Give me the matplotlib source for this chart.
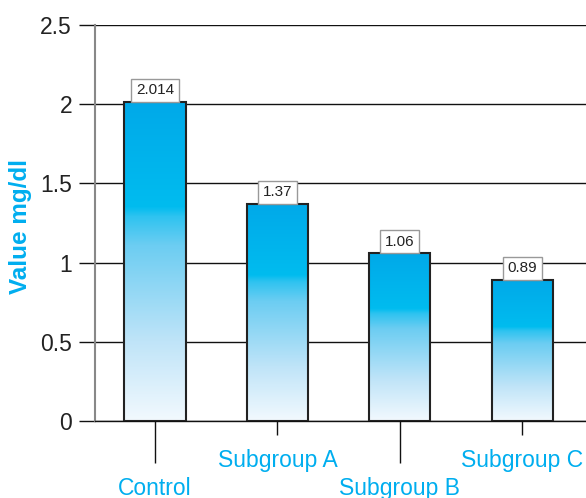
import matplotlib
matplotlib.use("Agg")
import matplotlib.pyplot as plt
import numpy as np
from matplotlib.colors import LinearSegmentedColormap
from matplotlib.ticker import FixedLocator, FixedFormatter

categories = ["Control", "Subgroup A", "Subgroup B", "Subgroup C"]
values = [2.014, 1.37, 1.06, 0.89]
value_labels = ["2.014", "1.37", "1.06", "0.89"]
yticks = [0, 0.5, 1, 1.5, 2, 2.5]
ytick_labels = ["0", "0.5", "1", "1.5", "2", "2.5"]

plt.rcParams['font.family'] = ['Liberation Sans', 'DejaVu Sans']
CYAN = "#00aeef"

fig = plt.figure(figsize=(5.86, 4.98), dpi=100)
ax = fig.add_axes([95/586, 1-421/498, 1-95/586, (421-25)/498])

x = np.arange(len(categories))
width = 0.5

cmap = LinearSegmentedColormap.from_list("grad", [
    (0.0, "#f2f9fe"),
    (0.25, "#bfe4f8"),
    (0.55, "#6ccdf2"),
    (0.64, "#2ec3f0"),
    (0.67, "#00bcef"),
    (1.0, "#00a9e9"),
])
grad = np.linspace(0, 1, 256).reshape(-1, 1)

bars = ax.bar(x, values, width, facecolor="none", edgecolor="#222222", linewidth=1.5, zorder=4)
for b in bars:
    x0, w, h = b.get_x(), b.get_width(), b.get_height()
    ax.imshow(grad, cmap=cmap, origin="lower", aspect="auto",
              extent=[x0, x0 + w, 0, h], zorder=3)

ax.set_xlim(-0.49, 3.52)
ax.set_ylim(0, 2.5)

for xi, v, lab in zip(x, values, value_labels):
    ax.annotate(lab, (xi, v), xytext=(0, 3.3), textcoords="offset points",
                ha="center", va="bottom", fontsize=11, color="#222222",
                bbox=dict(boxstyle="square,pad=0.3", fc="white", ec="#999999", lw=1),
                zorder=6)

ax.set_yticks(yticks)
ax.set_yticklabels(ytick_labels, fontsize=16.5, color="#222222")
ax.yaxis.grid(True, color="#111111", linewidth=1)
ax.set_axisbelow(True)
ax.tick_params(axis="y", length=11.5, width=1, color="#111111", pad=5)

# staggered x ticks
ax.xaxis.set_major_locator(FixedLocator([0, 2]))
ax.xaxis.set_major_formatter(FixedFormatter([categories[0], categories[2]]))
ax.xaxis.set_minor_locator(FixedLocator([1, 3]))
ax.xaxis.set_minor_formatter(FixedFormatter([categories[1], categories[3]]))
ax.tick_params(axis="x", which="major", length=30, width=1, color="#111111",
               labelsize=16.5, labelcolor=CYAN, pad=10)
ax.tick_params(axis="x", which="minor", length=10, width=1, color="#111111",
               labelsize=16.5, labelcolor=CYAN, pad=10)

for s in ["top", "right"]:
    ax.spines[s].set_visible(False)
ax.spines["left"].set_color("#888888")
ax.spines["left"].set_linewidth(1.5)
ax.spines["bottom"].set_color("#111111")
ax.spines["bottom"].set_linewidth(1)

ax.set_ylabel("Value mg/dl", fontsize=17.5, fontweight="bold", color=CYAN)
ax.yaxis.set_label_coords(-0.128, 0.49)

fig.savefig("out.png", dpi=100)
